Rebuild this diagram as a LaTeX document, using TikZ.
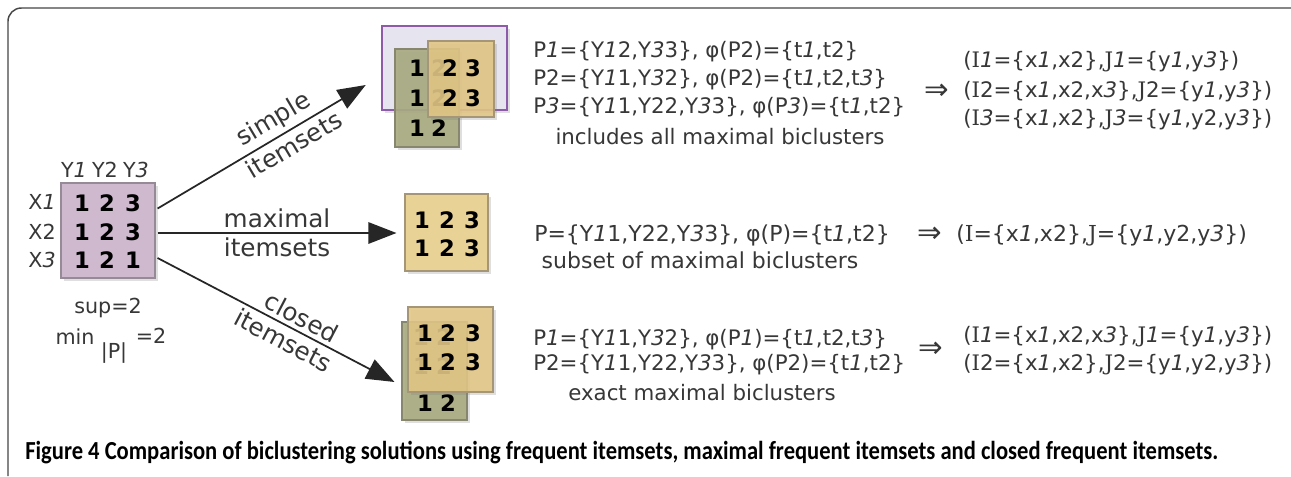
\documentclass[tikz,border=0pt]{standalone}
\usepackage{fontspec}
\usepackage{graphicx}
\setmainfont{DejaVu Sans}
\newfontfamily\capfont{Carlito}
\newfontfamily\serifcap{DejaVu Serif}
\usetikzlibrary{arrows.meta,shadows,calc}
\definecolor{matfill}{RGB}{207,185,206}
\definecolor{matline}{RGB}{150,138,150}
\definecolor{purpline}{RGB}{140,92,170}
\definecolor{purpfill}{RGB}{230,228,238}
\definecolor{greenfill}{RGB}{168,170,128}
\definecolor{greenline}{RGB}{135,135,112}
\definecolor{yelfill}{RGB}{226,198,132}
\definecolor{yelfillb}{RGB}{233,210,150}
\definecolor{yelline}{RGB}{165,150,120}
\definecolor{txtgray}{RGB}{55,55,55}
\definecolor{framegray}{RGB}{70,70,70}
\newcommand\ione{{\itshape 1}}
\newcommand\ithree{{\itshape 3}}
\newcommand\cI{{\serifcap I}}
\newcommand\cJ{{\serifcap J}}
\begin{document}
\begin{tikzpicture}[x=0.75pt,y=-0.75pt,
  txt/.style={font=\fontsize{16}{19}\selectfont, text=txtgray, inner sep=0pt, anchor=west},
  mtxt/.style={txt, font=\fontsize{16.5}{19}\selectfont},
  ctxt/.style={txt, anchor=center},
  lab/.style={font=\fontsize{15.5}{18}\selectfont, text=txtgray, inner sep=0pt},
  arlab/.style={font=\fontsize{18.5}{22}\selectfont, text=txtgray, sloped, inner sep=3pt},
  dig/.style={font=\fontsize{17}{19}\selectfont\bfseries, text=black, inner sep=0pt},
  imp/.style={font=\fontsize{22}{24}\selectfont, text=txtgray, inner sep=0pt},
  shad/.style={drop shadow={shadow xshift=2.2pt, shadow yshift=-2.2pt, opacity=0.25}},
  matbox/.style={shad, fill=matfill, draw=matline, line width=0.9pt},
  purpbox/.style={shad, fill=purpfill, draw=purpline, line width=1.9pt},
  greenbox/.style={shad, fill=greenfill, fill opacity=0.9, draw=greenline, line width=0.8pt},
  yelbox/.style={shad, fill=yelfill, fill opacity=0.88, draw=yelline, line width=0.8pt},
  yelboxb/.style={shad, fill=yelfillb, draw=yelline, line width=0.8pt},
  arr/.style={line width=1.3pt, draw=black!85, -{Triangle[length=21pt,width=16pt]}},
  framestyle/.style={draw=framegray, line width=1.1pt, rounded corners=10pt}
]
\useasboundingbox (0,0) rectangle (1291,476);
\fill[white] (0,0) rectangle (1291,476);
\draw[framestyle] (8,476) -- (8,8) -- (1291,8);

% source matrix
\node[matbox, minimum width=70.5pt, minimum height=71.25pt] (M) at (108,230.5) {};
\foreach \x/\y/\v [count=\i] in {82/203/1,107/203/2,133/203/3,82/232/1,107/232/2,133/232/3,82/260/1,107/260/2,133/260/1}
  \node[dig] (m\i) at (\x,\y) {\v};
\node[lab] (y1) at (74,170) {Y\ione};
\node[lab] (y2) at (105,170) {Y2};
\node[lab] (y3) at (136,170) {Y\ithree};
\node[lab] (x1) at (42,202) {X\ione};
\node[lab] (x2) at (42,232) {X2};
\node[lab] (x3) at (42,260) {X\ithree};
\node[lab] (sup) at (108,308) {sup=2};
\node[lab] (mn) at (75,337) {min};
\node[lab] (pp) at (114,353) {|P|};
\node[lab] (eq) at (151,336) {=2};

% top group
\node[purpbox, minimum width=93.75pt, minimum height=63pt] (PB) at (444.5,68) {};
\node[greenbox, minimum width=48pt, minimum height=73.5pt] (TG) at (427,98) {};
\foreach \x/\y/\v [count=\i] in {417/68/1,439/68/2,417/98/1,439/98/2,417/128/1,439/128/2}
  \node[dig] (tg\i) at (\x,\y) {\v};
\node[yelbox, minimum width=49.5pt, minimum height=57pt] (TY) at (461,79) {};
\foreach \x/\y/\v [count=\i] in {450/68/2,473/68/3,450/98/2,473/98/3}
  \node[dig] (ty\i) at (\x,\y) {\v};

% middle group
\node[yelboxb, minimum width=62.25pt, minimum height=57.75pt] (MY) at (446.5,232.5) {};
\foreach \x/\y/\v [count=\i] in {422/220/1,447/220/2,472/220/3,422/248/1,447/248/2,472/248/3}
  \node[dig] (my\i) at (\x,\y) {\v};

% bottom group
\node[greenbox, minimum width=48.75pt, minimum height=73.5pt] (BG) at (434.5,371) {};
\foreach \x/\y/\v [count=\i] in {421/337/1,444/337/2,421/366/1,444/366/2,425/403/1,448/403/2}
  \node[dig] (bg\i) at (\x,\y) {\v};
\node[yelbox, minimum width=63.75pt, minimum height=63.75pt] (BY) at (450.5,349.5) {};
\foreach \x/\y/\v [count=\i] in {425/333/1,448/333/2,473/333/3,425/362/1,448/362/2,473/362/3}
  \node[dig] (by\i) at (\x,\y) {\v};

% arrows
\draw[arr] ($(M.east)+(2,-22)$) -- ($(PB.west)+(-15,17)$)
  node[arlab, above, pos=0.6] {simple}
  node[arlab, below, pos=0.62] {itemsets};
\draw[arr] ($(M.east)+(2,2.5)$) -- ($(MY.west)+(-8,0.5)$)
  node[arlab, above, midway] {maximal}
  node[arlab, below, midway] {itemsets};
\draw[arr] ($(M.east)+(2,27.5)$) -- ($(BG.west)+(-7,11)$)
  node[arlab, above, pos=0.58] {closed}
  node[arlab, below, pos=0.56] {itemsets};

% top texts
\node[txt] (p1) at (533,52) {P\ione=\{Y\ione 2,Y\ithree 3\}, φ(P2)=\{t\ione,t2\}};
\node[txt] (p2) at (533,80) {P2=\{Y\ione 1,Y\ithree 2\}, φ(P2)=\{t\ione,t2,t\ithree\}};
\node[txt] (p3) at (533,108) {P\ithree=\{Y\ione 1,Y22,Y\ithree 3\}, φ(P\ithree)=\{t\ione,t2\}};
\node[ctxt] (inc) at (720,137) {includes all maximal biclusters};
\node[imp] (ar1) at (937,92) {⇒};
\node[txt] (i1) at (963,62) {(\cI\ione=\{x\ione,x2\},\cJ\ione=\{y\ione,y\ithree\})};
\node[txt] (i2) at (963,92) {(\cI2=\{x\ione,x2,x\ithree\},\cJ2=\{y\ione,y\ithree\})};
\node[txt] (i3) at (963,120) {(\cI\ithree=\{x\ione,x2\},\cJ\ithree=\{y\ione,y2,y\ithree\})};

% middle texts
\node[mtxt] (pm) at (534,235) {P=\{Y\ione 1,Y22,Y\ithree 3\}, φ(P)=\{t\ione,t2\}};
\node[mtxt, anchor=center] (sub) at (700,260) {subset of maximal biclusters};
\node[imp] (ar2) at (930,235) {⇒};
\node[mtxt] (im) at (956,235) {(\cI=\{x\ione,x2\},\cJ=\{y\ione,y2,y\ithree\})};

% bottom texts
\node[txt] (q1) at (533,340) {P\ione=\{Y\ione 1,Y\ithree 2\}, φ(P\ione)=\{t\ione,t2,t\ithree\}};
\node[txt] (q2) at (533,365) {P2=\{Y\ione 1,Y22,Y\ithree 3\}, φ(P2)=\{t\ione,t2\}};
\node[ctxt] (ex) at (702,393) {exact maximal biclusters};
\node[imp] (ar3) at (931,350) {⇒};
\node[txt] (j1) at (963,337) {(\cI\ione=\{x\ione,x2,x\ithree\},\cJ\ione=\{y\ione,y\ithree\})};
\node[txt] (j2) at (963,365) {(\cI2=\{x\ione,x2\},\cJ2=\{y\ione,y2,y\ithree\})};

% caption
\node[anchor=west, inner sep=0pt] (cap) at (25,453) {\resizebox{894.75pt}{\height}{\capfont\bfseries\fontsize{19.5}{22}\selectfont Figure 4 Comparison of biclustering solutions using frequent itemsets, maximal frequent itemsets and closed frequent itemsets.}};
\end{tikzpicture}
\end{document}
